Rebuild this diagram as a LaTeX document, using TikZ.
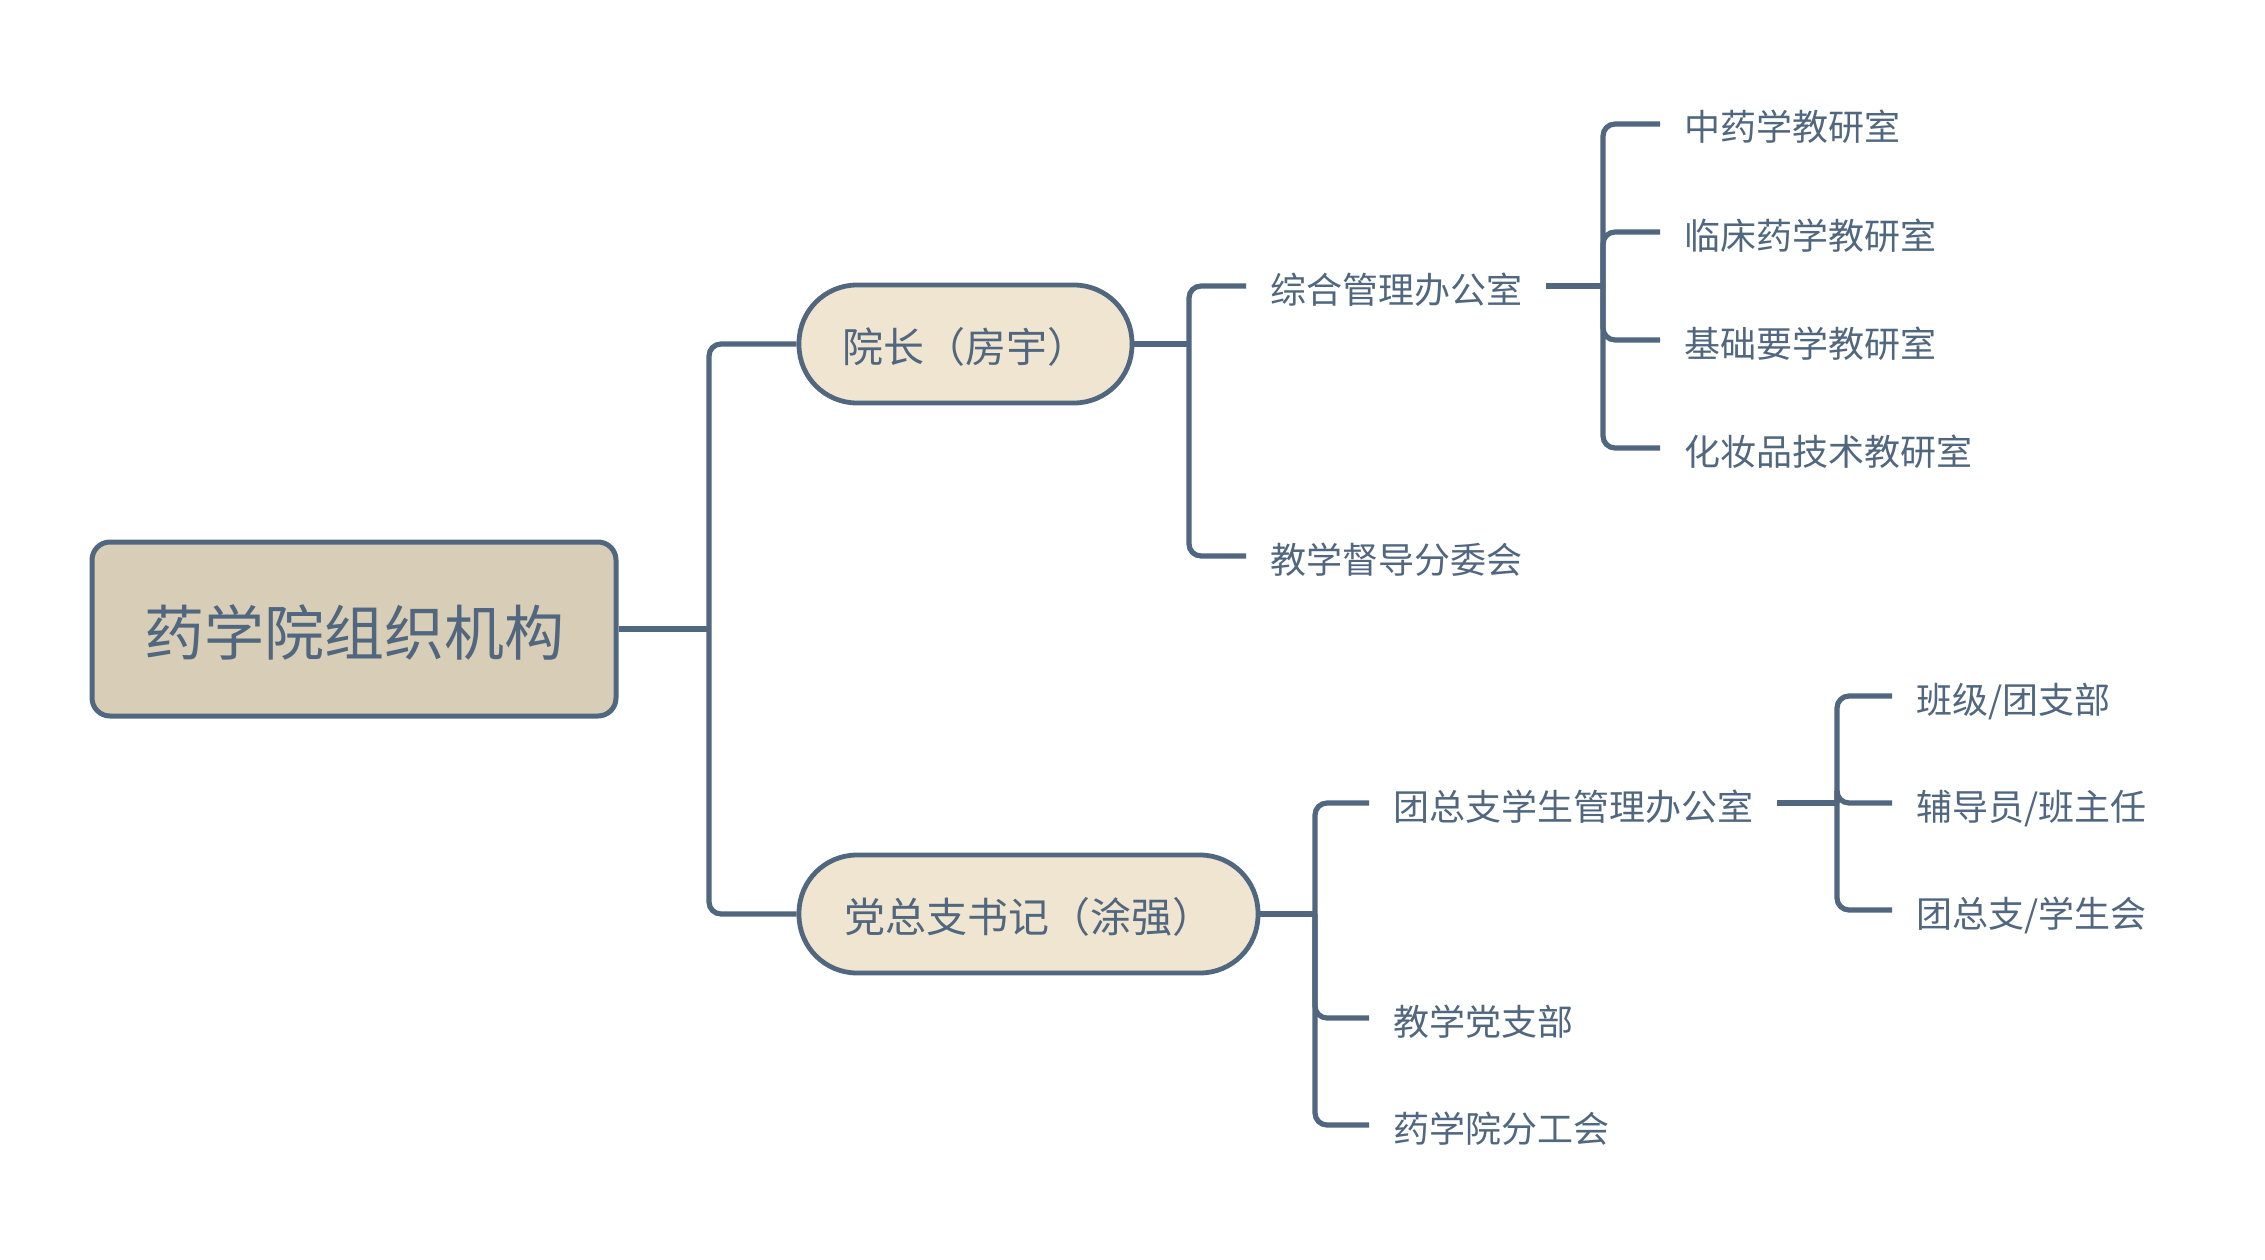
\documentclass[tikz,border=0pt]{standalone}
\usepackage{fontspec}
\newfontfamily\cjk{Noto Sans CJK SC}
\definecolor{lineblue}{HTML}{50677F}
\definecolor{rootfill}{HTML}{D8CDB6}
\definecolor{pillfill}{HTML}{EFE5D0}
\begin{document}
\begin{tikzpicture}[x=1pt,y=-1pt,
  conn/.style={draw=lineblue,line width=5.2pt,rounded corners=12pt},
  stub/.style={draw=lineblue,line width=5.2pt},
  rootbox/.style={draw=lineblue,line width=5pt,fill=rootfill,rounded corners=18pt,
    minimum width=524pt,minimum height=174pt,inner sep=0pt,text=lineblue,
    font=\cjk\fontsize{60}{72}\selectfont,text height=56pt,text depth=4pt},
  pill/.style={draw=lineblue,line width=4.8pt,fill=pillfill,rounded corners=58pt,
    minimum height=118pt,inner sep=0pt,text=lineblue,
    font=\cjk\fontsize{41}{50}\selectfont,text height=40pt,text depth=3pt},
  leaf/.style={anchor=west,inner xsep=24pt,inner ysep=0pt,text=lineblue,
    font=\cjk\fontsize{36}{44}\selectfont,text height=36pt,text depth=2pt}
]
\useasboundingbox[fill=white] (0,0) rectangle (2265,1260);

% nodes
\node[rootbox] (root) at (354,629) {药学院组织机构};
\node[pill,minimum width=333pt] (p1) at (965.5,344) {院长（房宇）};
\node[pill,minimum width=459pt] (p2) at (1028.5,914) {党总支书记（涂强）};

\node[leaf] (a1) at (1246,286) {综合管理办公室};
\node[leaf] (a2) at (1246,556) {教学督导分委会};

\node[leaf] (b1) at (1660,124) {中药学教研室};
\node[leaf] (b2) at (1660,232) {临床药学教研室};
\node[leaf] (b3) at (1660,340) {基础要学教研室};
\node[leaf] (b4) at (1660,448) {化妆品技术教研室};

\node[leaf] (c1) at (1369,803) {团总支学生管理办公室};
\node[leaf] (c2) at (1369,1018) {教学党支部};
\node[leaf] (c3) at (1369,1125) {药学院分工会};

\node[leaf] (d1) at (1892,696) {班级/团支部};
\node[leaf] (d2) at (1892,803) {辅导员/班主任};
\node[leaf] (d3) at (1892,910) {团总支/学生会};

% junctions
\coordinate (j0) at (709,629);
\coordinate (j1) at (1189,344);
\coordinate (ja) at (1603,286);
\coordinate (j2) at (1315,914);
\coordinate (jc) at (1837,803);

% connectors
\draw[stub] (root.east) -- (j0);
\draw[conn] (j0) |- (p1.west);
\draw[conn] (j0) |- (p2.west);

\draw[stub] (p1.east) -- (j1);
\draw[conn] (j1) |- (a1.west);
\draw[conn] (j1) |- (a2.west);

\draw[stub] (a1.east) -- (ja);
\draw[conn] (ja) |- (b1.west);
\draw[conn] (ja) |- (b2.west);
\draw[conn] (ja) |- (b3.west);
\draw[conn] (ja) |- (b4.west);

\draw[stub] (p2.east) -- (j2);
\draw[conn] (j2) |- (c1.west);
\draw[conn] (j2) |- (c2.west);
\draw[conn] (j2) |- (c3.west);

\draw[stub] (c1.east) -- (jc);
\draw[conn] (jc) |- (d1.west);
\draw[conn] (jc) |- (d2.west);
\draw[conn] (jc) |- (d3.west);
\end{tikzpicture}
\end{document}
